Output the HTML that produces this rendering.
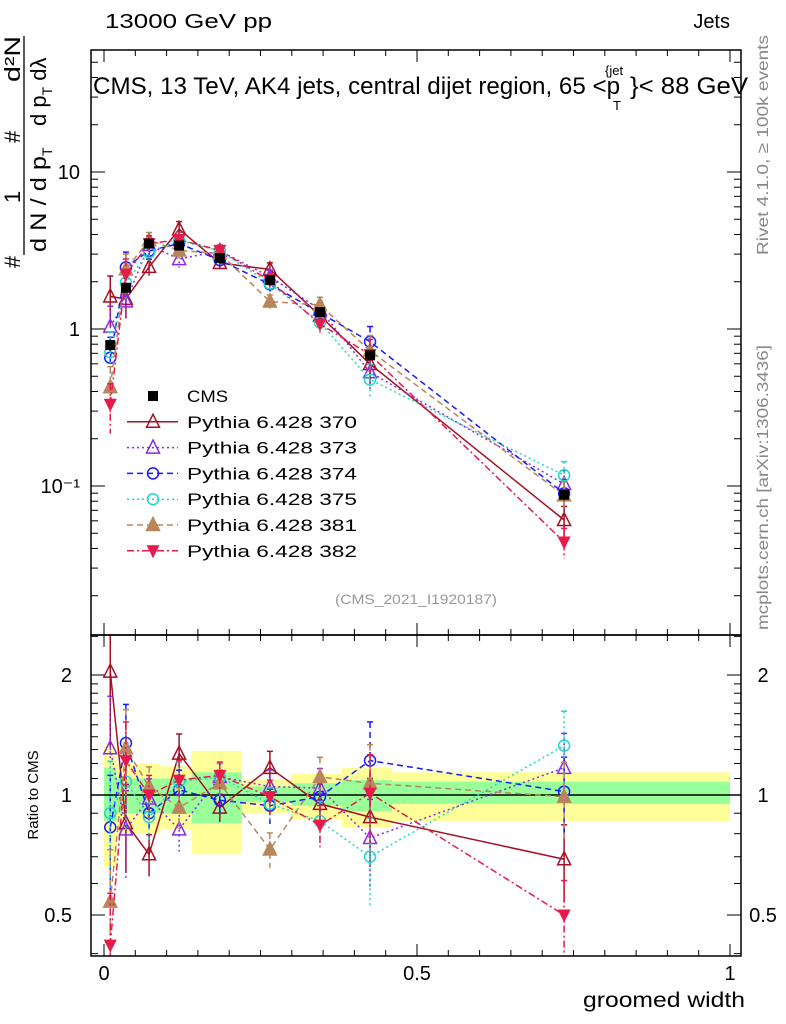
<!DOCTYPE html>
<html><head><meta charset="utf-8"><style>
html,body{margin:0;padding:0;background:#fff;}
svg{display:block;font-family:"Liberation Sans",sans-serif;}
</style></head><body>
<svg id="chart" width="786" height="1024" viewBox="0 0 786 1024" xmlns="http://www.w3.org/2000/svg">
<defs>
<clipPath id="clipMain"><rect x="91" y="50" width="650" height="585"/></clipPath>
<clipPath id="clipRatio"><rect x="91" y="635" width="650" height="321"/></clipPath>
</defs>
<g id="bands"></g>
<g id="grid"></g>
<g id="seriesMain" clip-path="url(#clipMain)"></g>
<g id="seriesRatio" clip-path="url(#clipRatio)"></g>
<rect x="91" y="50" width="650" height="585" fill="none" stroke="#000" stroke-width="1.5"/>
<rect x="91" y="635" width="650" height="321" fill="none" stroke="#000" stroke-width="1.5"/>
<text x="105" y="28" font-size="20" textLength="167" lengthAdjust="spacingAndGlyphs">13000 GeV pp</text>
<text x="730" y="28" font-size="20" text-anchor="end">Jets</text>
<g>
<text x="93" y="94" font-size="24" textLength="527" lengthAdjust="spacingAndGlyphs">CMS, 13 TeV, AK4 jets, central dijet region, 65 &lt;p</text>
<text x="605" y="75" font-size="13">{jet</text>
<text x="613" y="110" font-size="13">T</text>
<text x="630" y="94" font-size="24" textLength="118" lengthAdjust="spacingAndGlyphs">}&lt; 88 GeV</text>
</g>
<g font-size="22">
<text transform="translate(20,268) rotate(-90)">#</text>
<text transform="translate(20,203) rotate(-90)">1</text>
<text transform="translate(20,143) rotate(-90)">#</text>
<text transform="translate(20,82) rotate(-90)" textLength="46" lengthAdjust="spacingAndGlyphs">d²N</text>
<line x1="24" y1="255" x2="24" y2="36" stroke="#000" stroke-width="1.3"/>
<text transform="translate(46,252) rotate(-90)"><tspan textLength="96" lengthAdjust="spacingAndGlyphs">d N / d p</tspan><tspan font-size="14" dy="6">T</tspan></text>
<text transform="translate(46,126) rotate(-90)"><tspan>d p</tspan><tspan font-size="14" dy="6">T</tspan><tspan dy="-6"> d</tspan>λ</text>
</g>
<text transform="translate(38,795) rotate(-90)" font-size="15" text-anchor="middle">Ratio to CMS</text>
<text x="583" y="1007" font-size="21" textLength="162" lengthAdjust="spacingAndGlyphs">groomed width</text>
<text transform="translate(768,255) rotate(-90)" font-size="16" fill="#888" textLength="220" lengthAdjust="spacingAndGlyphs">Rivet 4.1.0, ≥ 100k events</text>
<text transform="translate(768,630) rotate(-90)" font-size="16" fill="#888" textLength="285" lengthAdjust="spacingAndGlyphs">mcplots.cern.ch [arXiv:1306.3436]</text>
<text x="335" y="604" font-size="14" fill="#999" textLength="162" lengthAdjust="spacingAndGlyphs">(CMS_2021_I1920187)</text>
<g id="legend"></g>
</svg>
<script>
const xCenters=[0.01,0.035,0.072,0.12,0.185,0.265,0.345,0.425,0.735];
const cmsValues=[0.79,1.83,3.5,3.4,2.83,2.05,1.28,0.68,0.088];
const cmsErr=[0.08,0.06,0.05,0.05,0.05,0.05,0.06,0.07,0.08];
const binEdges=[0,0.02,0.09,0.14,0.22,0.3,0.38,0.46,1.0];
const yellowHi=[1.33,1.20,1.18,1.29,1.09,1.13,1.17,1.14];
const yellowLo=[0.66,0.80,0.82,0.71,0.90,0.87,0.83,0.86];
const greenHi=[1.17,1.10,1.10,1.14,1.05,1.07,1.09,1.08];
const greenLo=[0.86,0.90,0.90,0.85,0.96,0.94,0.91,0.95];
const r370=[2.04,0.85,0.71,1.27,0.93,1.17,0.95,0.88,0.69];
const r373=[1.31,0.82,0.98,0.82,1.11,1.05,1.04,0.78,1.17];
const r374=[0.83,1.35,0.90,1.03,0.97,0.94,0.99,1.22,1.02];
const r375=[0.90,1.08,0.88,1.08,1.11,0.95,0.86,0.70,1.33];
const r381=[0.54,1.31,1.05,0.93,1.07,0.73,1.11,1.07,0.99];
const r382=[0.42,1.22,1.00,1.09,1.12,0.99,0.84,1.01,0.50];
const mcErr=[0.35,0.25,0.12,0.12,0.08,0.1,0.12,0.25,0.22];
const seriesNames=["Pythia 6.428 370","Pythia 6.428 373","Pythia 6.428 374","Pythia 6.428 375","Pythia 6.428 381","Pythia 6.428 382"];
const xTicks=[0,0.5,1];
const xTickLabels=["0","0.5","1"];
const mainTicks=[0.1,1,10];
const mainTickLabels=["10⁻¹","1","10"];
const ratioTicks=[0.5,1,2];
const ratioTickLabels=["0.5","1","2"];

const NS="http://www.w3.org/2000/svg";
const X=v=>104+626*v;
const YM=v=>329-157*Math.log10(v);
const YR=v=>795-120*Math.log2(v);
function el(tag,attrs,parent){const e=document.createElementNS(NS,tag);for(const k in attrs)e.setAttribute(k,attrs[k]);parent.appendChild(e);return e;}
const bands=document.getElementById('bands');
const grid=document.getElementById('grid');
const serM=document.getElementById('seriesMain');
const serR=document.getElementById('seriesRatio');
const leg=document.getElementById('legend');

for(let i=0;i<binEdges.length-1;i++){
  const x0=X(binEdges[i]),x1=Math.min(X(binEdges[i+1]),730);
  const y=el('rect',{x:x0,y:YR(yellowHi[i]),width:x1-x0,height:YR(yellowLo[i])-YR(yellowHi[i]),fill:'#ffff99'},bands);
  
  
  const g=el('rect',{x:x0,y:YR(greenHi[i]),width:x1-x0,height:YR(greenLo[i])-YR(greenHi[i]),fill:'#99ff99'},bands);
  
  
}
const unity=el('line',{x1:91,x2:741,y1:YR(1),y2:YR(1),stroke:'#000','stroke-width':1.5},grid);



for(let v=0;v<=1.0001;v+=0.05){
  const big=Math.abs(v*2-Math.round(v*2))<1e-6;
  const len=big?12:6;
  [[635,-1],[956,-1],[50,1],[635,1]].forEach(([yy,d])=>{el('line',{x1:X(v),x2:X(v),y1:yy,y2:yy+d*len,stroke:'#000','stroke-width':1},grid);});
}
xTicks.forEach((v,i)=>{const t=el('text',{x:X(v),y:980,'font-size':20,'text-anchor':'middle'},grid);t.textContent=xTickLabels[i];

});
for(let d=-2;d<=1;d++){for(let m=1;m<10;m++){const v=m*Math.pow(10,d);const y=YM(v);if(y<50||y>635)continue;const len=m==1?14:7;
el('line',{x1:91,x2:91+len,y1:y,y2:y,stroke:'#000'},grid);el('line',{x1:741,x2:741-len,y1:y,y2:y,stroke:'#000'},grid);}}
mainTicks.forEach((v,i)=>{const t=el('text',{x:80,y:YM(v)+7,'font-size':20,'text-anchor':'end'},grid);t.textContent=mainTickLabels[i];

});
[0.4,0.5,0.6,0.7,0.8,0.9,1,1.1,1.2,1.3,1.4,1.5,1.6,1.7,1.8,1.9,2,2.5].forEach(v=>{const y=YR(v);if(y<635||y>956)return;const len=(v==0.5||v==1||v==2)?14:7;
el('line',{x1:91,x2:91+len,y1:y,y2:y,stroke:'#000'},grid);el('line',{x1:741,x2:741-len,y1:y,y2:y,stroke:'#000'},grid);});
ratioTicks.forEach((v,i)=>{[72,763].forEach(xx=>{const t=el('text',{x:xx,y:YR(v)+7,'font-size':20,'text-anchor':xx<100?'end':'middle'},grid);t.textContent=ratioTickLabels[i];

});});

function marker(type,x,y,color,parent){
  const s=6.5;
  if(type=='sq')return el('rect',{x:x-5,y:y-5,width:10,height:10,fill:color},parent);
  if(type=='tri'||type=='triF')return el('polygon',{points:`${x},${y-s-1} ${x-s},${y+s-1} ${x+s},${y+s-1}`,fill:type=='triF'?color:'#fff',stroke:color,'stroke-width':1.5,'fill-opacity':type=='triF'?1:0},parent);
  if(type=='triD')return el('polygon',{points:`${x},${y+s+1} ${x-s},${y-s+1} ${x+s},${y-s+1}`,fill:color},parent);
  return el('circle',{cx:x,cy:y,r:s-1,fill:'none',stroke:color,'stroke-width':1.5},parent);
}
const styles=[
 {c:'#a50f24',d:'',m:'tri',w:1.5,data:r370},
 {c:'#8a2be2',d:'2,3',m:'tri',w:1.5,data:r373},
 {c:'#1a1aff',d:'6,4',m:'circ',w:1.5,data:r374},
 {c:'#20d8c8',d:'2,3',m:'circ',w:1.5,data:r375},
 {c:'#b8865a',d:'6,4',m:'triF',w:1.5,data:r381},
 {c:'#e8194b',d:'7,3,2,3',m:'triD',w:1.5,data:r382}];
styles.forEach((s,si)=>{
  const tag=seriesNames[si].split(' ')[2];
  const gm=el('g',{},serM);
  
  
  const gr=el('g',{},serR);
  
  
  const mainPts=xCenters.map((x,i)=>[X(x),YM(cmsValues[i]*s.data[i])]);
  const ratPts=xCenters.map((x,i)=>[X(x),YR(s.data[i])]);
  [[mainPts,YM,i=>cmsValues[i]*s.data[i],gm],[ratPts,YR,i=>s.data[i],gr]].forEach(([pts,Yf,val,g])=>{
    el('polyline',{points:pts.map(p=>p.join(',')).join(' '),fill:'none',stroke:s.c,'stroke-width':s.w,'stroke-dasharray':s.d},g);
    pts.forEach((p,i)=>{const v=val(i);const e=mcErr[i];
      el('line',{x1:p[0],x2:p[0],y1:Yf(v*(1+e)),y2:Yf(Math.max(v*(1-e),0.01)),stroke:s.c,'stroke-width':1.5,'stroke-dasharray':s.d},g);
      el('line',{x1:p[0]-3,x2:p[0]+3,y1:Yf(v*(1+e)),y2:Yf(v*(1+e)),stroke:s.c,'stroke-width':1.5},g);
      const mk=marker(s.m,p[0],p[1],s.c,g);
      
      
    });
  });
});
const cg=el('g',{},serM);


xCenters.forEach((x,i)=>{const v=cmsValues[i];
  el('line',{x1:X(x),x2:X(x),y1:YM(v*(1+cmsErr[i])),y2:YM(v*(1-cmsErr[i])),stroke:'#000','stroke-width':1.5},cg);
  const m=marker('sq',X(x),YM(v),'#000',cg);
  
  
});
const legLabels=['CMS'].concat(seriesNames);
legLabels.forEach((lab,i)=>{const y=396+25.8*i;
  const g=el('g',{},leg);
  
  
  if(i==0){marker('sq',153,y,'#000',g);}
  else{const s=styles[i-1];el('line',{x1:127,x2:178,y1:y,y2:y,stroke:s.c,'stroke-width':1.5,'stroke-dasharray':s.d},g);marker(s.m,153,y,s.c,g);}
  const t=el('text',{x:187,y:y+6,'font-size':17,textLength:i==0?41:170,lengthAdjust:'spacingAndGlyphs'},g);t.textContent=lab;
});
</script>
</body></html>
